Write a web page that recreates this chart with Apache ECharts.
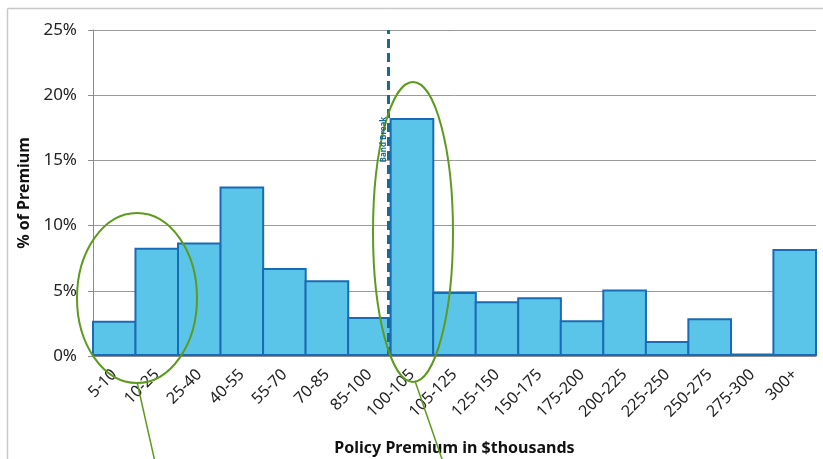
<!DOCTYPE html>
<html>
<head>
<meta charset="utf-8">
<script src="https://cdn.jsdelivr.net/npm/echarts@6/dist/echarts.min.js"></script>
<style>
  html, body { margin: 0; padding: 0; background: #fff; }
  #chart { width: 823px; height: 459px; }
</style>
</head>
<body>
<div id="chart"></div>
<script>
// Premium bands (in $thousands) and share of total premium (%)
const bands = ['5-10', '10-25', '25-40', '40-55', '55-70', '70-85', '85-100', '100-105',
  '105-125', '125-150', '150-175', '175-200', '200-225', '225-250', '250-275', '275-300', '300+'];
const premiumShare = [2.7, 8.3, 8.7, 13.0, 6.75, 5.8, 3.0, 18.25, 4.9, 4.2, 4.5, 2.75, 5.1, 1.15, 2.9, 0.2, 8.2];
const yTicks = [0, 5, 10, 15, 20, 25];
// Position of the band break, measured in category widths from the left edge
const bandBreakAt = [6.95];
const bandBreakLabel = ['Band Break'];

const FONT = 'Noto Sans';
const chart = echarts.init(document.getElementById('chart'));

const option = {
  animation: false,
  grid: { left: 93, right: 7, top: 30, bottom: 103, containLabel: false, outerBoundsMode: 'none' },
  xAxis: [{
    type: 'category',
    data: bands,
    name: 'Policy Premium in $thousands',
    nameLocation: 'middle',
    nameGap: 84,
    nameTextStyle: { fontFamily: FONT, fontSize: 16, fontWeight: 'bold', color: '#111' },
    axisLine: { lineStyle: { color: '#8c8c8c', width: 1 } },
    axisTick: { alignWithLabel: false, length: 5, lineStyle: { color: '#8c8c8c' } },
    axisLabel: { rotate: 45, margin: 16, fontFamily: FONT, fontSize: 16, color: '#222' }
  }, {
    type: 'value', min: 0, max: bands.length, show: false
  }],
  yAxis: {
    type: 'value',
    min: yTicks[0], max: yTicks[yTicks.length - 1], interval: 5,
    name: '% of Premium',
    nameLocation: 'middle',
    nameGap: 60,
    nameTextStyle: { fontFamily: FONT, fontSize: 16, fontWeight: 'bold', color: '#111' },
    axisLine: { show: true, lineStyle: { color: '#8c8c8c' } },
    axisTick: { show: true, length: 5, lineStyle: { color: '#8c8c8c' } },
    axisLabel: { formatter: v => v + '%', margin: 16, fontFamily: FONT, fontSize: 17, color: '#222' },
    splitLine: { lineStyle: { color: '#9a9a9a', width: 1 } }
  },
  series: [{
    type: 'bar',
    data: premiumShare,
    // bars are inset by their border, so widen them to make neighbours touch
    barWidth: '105%',
    itemStyle: { color: '#5bc5e9', borderColor: '#1a6bb5', borderWidth: 2 },
    z: 2
  }, {
    type: 'line',
    xAxisIndex: 1,
    data: [],
    silent: true,
    markLine: {
      symbol: ['none', 'none'],
      silent: true,
      label: { show: false },
      lineStyle: { color: '#1a6a8c', width: 3, type: [9, 5] },
      data: [{ xAxis: bandBreakAt[0] }]
    },
    z: 3
  }]
};
chart.setOption(option);

// Annotations: frame, highlight ellipses with pointer lines, and the band break caption
function drawAnnotations() {
  const breakX = chart.convertToPixel({ xAxisIndex: 1 }, bandBreakAt[0]);
  const captionY = chart.convertToPixel({ yAxisIndex: 0 }, 16.6);
  const green = '#5e9a1e';
  chart.setOption({
    graphic: [
      { type: 'line', shape: { x1: 7.5, y1: 8.5, x2: 823, y2: 8.5 },
        style: { stroke: '#c8c8c8', lineWidth: 1.5 }, silent: true, z: 0 },
      { type: 'line', shape: { x1: 7.5, y1: 8.5, x2: 7.5, y2: 459 },
        style: { stroke: '#c8c8c8', lineWidth: 1.5 }, silent: true, z: 0 },
      { type: 'ellipse', shape: { cx: 137, cy: 298, rx: 60, ry: 85 },
        style: { fill: 'none', stroke: green, lineWidth: 2 }, silent: true, z: 10 },
      { type: 'line', shape: { x1: 137, y1: 382, x2: 155, y2: 462 },
        style: { stroke: green, lineWidth: 1.5 }, silent: true, z: 10 },
      { type: 'ellipse', shape: { cx: 413, cy: 232, rx: 40, ry: 150 },
        style: { fill: 'none', stroke: green, lineWidth: 2 }, silent: true, z: 10 },
      { type: 'line', shape: { x1: 415, y1: 381, x2: 443, y2: 462 },
        style: { stroke: green, lineWidth: 1.5 }, silent: true, z: 10 },
      { type: 'text', x: breakX - 5, y: captionY, rotation: Math.PI / 2,
        style: { text: bandBreakLabel[0], fill: '#1a6a8c', font: 'bold 8px ' + FONT,
          align: 'center', verticalAlign: 'middle' }, silent: true, z: 11 }
    ]
  });
}
drawAnnotations();
</script>
</body>
</html>
